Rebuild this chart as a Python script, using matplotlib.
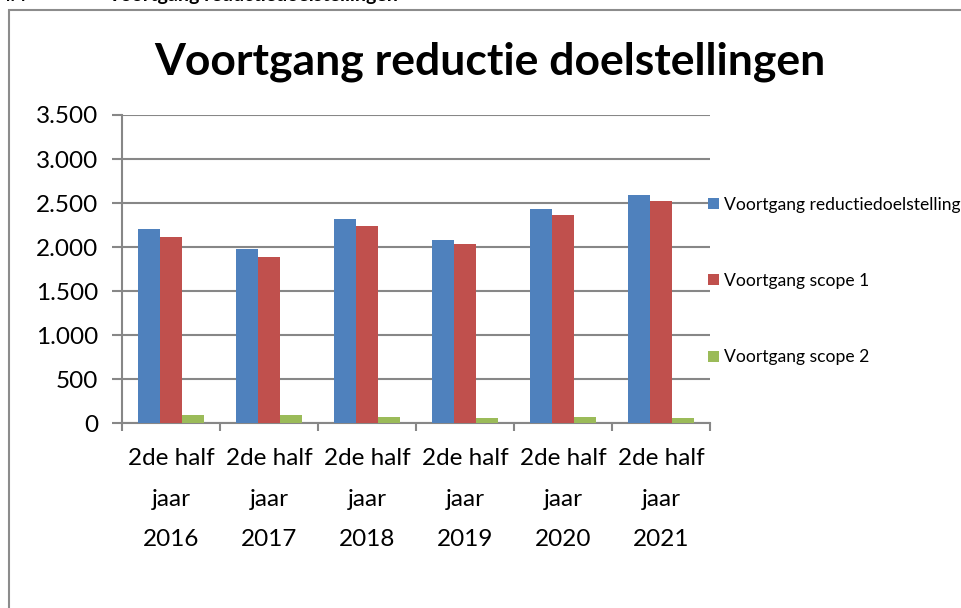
import matplotlib
matplotlib.use("Agg")
import matplotlib.pyplot as plt
import numpy as np
from matplotlib.patches import Rectangle

plt.rcParams["font.family"] = ["Lato", "DejaVu Sans"]

periods = ["2016", "2017", "2018", "2019", "2020", "2021"]
category_labels = ["2de half\njaar\n" + p for p in periods]
series_names = [
    "Voortgang reductiedoelstelling",
    "Voortgang scope 1",
    "Voortgang scope 2",
]
reductie = [2200, 1980, 2318, 2078, 2432, 2590]
scope_1 = [2110, 1888, 2237, 2033, 2366, 2522]
scope_2 = [96, 88, 73, 57, 65, 53]
series_colors = ["#4F81BD", "#C0504D", "#9BBB59"]

fig = plt.figure(figsize=(9.61, 6.08), dpi=100)
ax = fig.add_axes([122 / 961, 1 - 423 / 608, 588 / 961, 308 / 608])

x = np.arange(len(periods))
width = 0.222
for i, (vals, name, col) in enumerate(zip([reductie, scope_1, scope_2], series_names, series_colors)):
    ax.bar(x + (i - 1) * width, vals, width, color=col, label=name, zorder=3)

grid_col = "#878787"
ax.set_ylim(0, 3500)
ax.set_yticks(np.arange(0, 3501, 500))
ax.set_yticklabels([f"{v:,}".replace(",", ".") for v in range(0, 3501, 500)])
ax.set_xlim(-0.5, len(periods) - 0.5)
ax.set_xticks(x)
ax.set_xticklabels(category_labels, linespacing=2.16)
ax.set_xticks(np.arange(-0.5, len(periods)), minor=True)

ax.grid(axis="y", color=grid_col, linewidth=1.5, zorder=0)
for s in ["top", "right"]:
    ax.spines[s].set_visible(False)
for s in ["left", "bottom"]:
    ax.spines[s].set_color(grid_col)
    ax.spines[s].set_linewidth(1.5)

ax.tick_params(axis="y", length=7, width=1.5, color=grid_col, labelsize=17.5, pad=10)
ax.tick_params(axis="x", which="major", length=0, labelsize=17.5, pad=18)
ax.tick_params(axis="x", which="minor", length=6, width=1.5, color=grid_col, direction="out")

fig.text(490 / 961, 1 - 62 / 608, "Voortgang reductie doelstellingen",
         ha="center", va="center", fontsize=32, fontweight="bold")

ax.legend(loc="center left", bbox_to_anchor=(708 / 961, 1 - 281 / 608),
          bbox_transform=fig.transFigure, frameon=False, fontsize=12.6,
          handlelength=0.6, handleheight=0.6, handletextpad=0.3,
          labelspacing=3.45, borderaxespad=0, borderpad=0)

# chart frame (continues past the visible area)
fig.patches.append(Rectangle((9 / 961, -0.1), 2, 1.1 - 10 / 608, transform=fig.transFigure,
                             fill=False, edgecolor="#8c8c8c", linewidth=1.5))

# document heading cut off at the top
fig.text(0, 1 - 1 / 608, "4.4", fontsize=14, fontweight="bold", va="baseline")
fig.text(107 / 961, 1 - 1 / 608, "Voortgang reductiedoelstellingen",
         fontsize=14, fontweight="bold", va="baseline")

fig.savefig("out.png", dpi=100)
